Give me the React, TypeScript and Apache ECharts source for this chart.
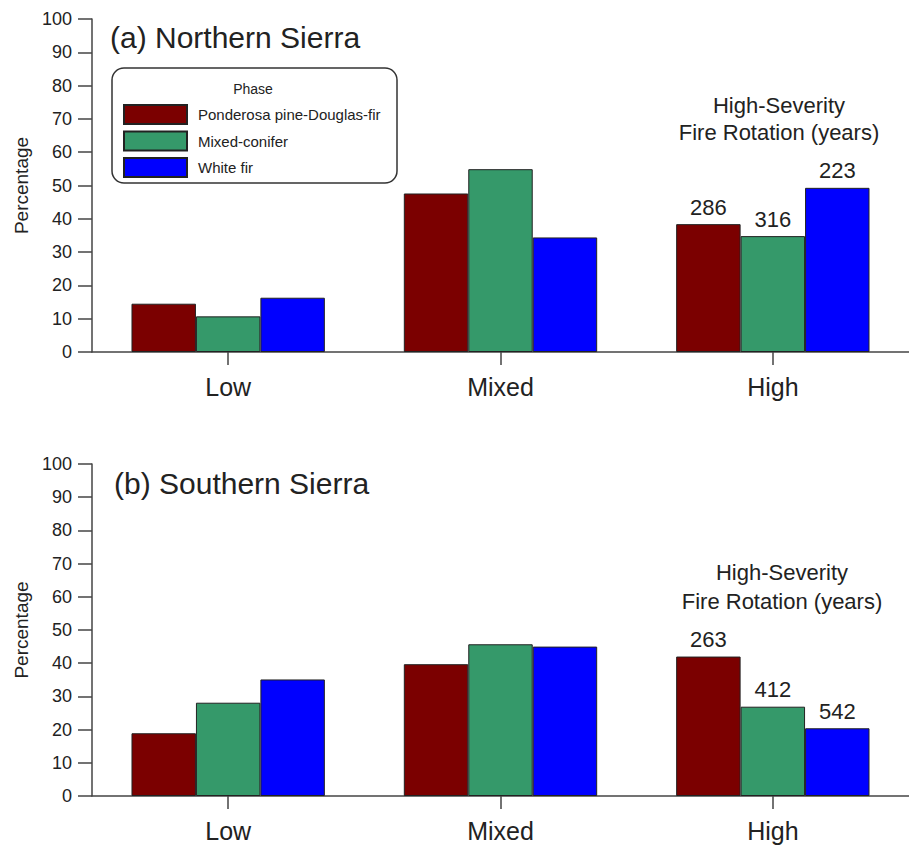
import React, { useEffect, useRef } from "react";
import * as echarts from "echarts";

const categories = ["Low", "Mixed", "High"];
const phases = ["Ponderosa pine-Douglas-fir", "Mixed-conifer", "White fir"];
const phaseColors = ["#7b0000", "#35996a", "#0000ff"];

// (a) Northern Sierra: percentage by severity class, per phase
const northPPDF = [14.5, 47.6, 38.4];
const northMC = [10.7, 54.9, 34.8];
const northWF = [16.3, 34.4, 49.3];
const northRotation = [286, 316, 223];

// (b) Southern Sierra
const southPPDF = [18.9, 39.7, 42.0];
const southMC = [28.1, 45.7, 26.9];
const southWF = [35.1, 45.0, 20.4];
const southRotation = [263, 412, 542];

const yTicks = { min: 0, max: 100, interval: 10 };

const FONT = "Liberation Sans, Arial, sans-serif";

function buildData(values: number[], rotation: number) {
  return values.map((v, i) =>
    i === 2
      ? {
          value: v,
          label: {
            show: true,
            position: "top",
            distance: 6,
            formatter: String(rotation),
            fontSize: 22,
            fontFamily: FONT,
            color: "#222",
          },
        }
      : { value: v }
  );
}

export default function App() {
  const ref = useRef<HTMLDivElement>(null);
  useEffect(() => {
    if (!ref.current) return;
    const chart = echarts.init(ref.current, null, { renderer: "svg" });
    const axisColor = "#444";
    const mkX = (gridIndex: number) => ({
      type: "category",
      gridIndex,
      data: categories,
      axisLine: { show: true, lineStyle: { color: axisColor, width: 1.5 } },
      axisTick: { show: true, inside: false, alignWithLabel: true, length: 13, lineStyle: { color: axisColor, width: 1.5 } },
      axisLabel: { fontSize: 25, color: "#222", fontFamily: FONT, margin: 22 },
    });
    const mkY = (gridIndex: number) => ({
      type: "value",
      gridIndex,
      position: "left",
      min: yTicks.min,
      max: yTicks.max,
      interval: yTicks.interval,
      name: "Percentage",
      nameLocation: "middle",
      nameRotate: 90,
      nameGap: 59,
      nameTextStyle: { fontSize: 19, color: "#222", fontFamily: FONT },
      splitLine: { show: false },
      axisLine: { show: true, onZero: false, lineStyle: { color: axisColor, width: 1.5 } },
      axisTick: { show: true, inside: false, length: 14, lineStyle: { color: axisColor, width: 1.5 } },
      axisLabel: { show: true, fontSize: 18, color: "#222", fontFamily: FONT, margin: 20 },
    });
    const seriesSets = [
      { grid: 0, vals: [northPPDF, northMC, northWF], rot: northRotation },
      { grid: 1, vals: [southPPDF, southMC, southWF], rot: southRotation },
    ];
    const series: any[] = [];
    seriesSets.forEach((s) => {
      s.vals.forEach((vals, k) => {
        series.push({
          type: "bar",
          name: phases[k],
          xAxisIndex: s.grid,
          yAxisIndex: s.grid,
          data: buildData(vals, s.rot[k]),
          barGap: "0%",
          barCategoryGap: "29%",
          itemStyle: { color: phaseColors[k], borderColor: "#222", borderWidth: 1 },
        });
      });
    });
    const rotText = "High-Severity\nFire Rotation (years)";
    chart.setOption({
      animation: false,
      backgroundColor: "#fff",
      title: [
        { text: "(a) Northern Sierra", left: 110, top: 22, padding: 0, textStyle: { fontSize: 30, fontWeight: "normal", color: "#222", fontFamily: FONT } },
        { text: "(b) Southern Sierra", left: 114, top: 468, padding: 0, textStyle: { fontSize: 30, fontWeight: "normal", color: "#222", fontFamily: FONT } },
      ],
      legend: {
        data: phases,
        orient: "vertical",
        left: 123,
        top: 104,
        padding: 0,
        itemWidth: 63,
        itemHeight: 19,
        itemGap: 5.5,
        icon: "rect",
        textStyle: { fontSize: 15, color: "#222", fontFamily: FONT, padding: [0, 0, 0, 6] },
      },
      grid: [
        { left: 92, top: 19, width: 828, height: 333 },
        { left: 92, top: 464, width: 828, height: 332 },
      ],
      xAxis: [mkX(0), mkX(1)],
      yAxis: [mkY(0), mkY(1)],
      series,
      graphic: [
        { type: "rect", shape: { x: 112, y: 68, width: 285, height: 115, r: 12 }, style: { fill: "none", stroke: "#333", lineWidth: 1.5 }, z: 10 },
        { type: "text", x: 253, y: 89, style: { text: "Phase", fontSize: 14, fill: "#222", fontFamily: FONT, align: "center", verticalAlign: "middle" }, z: 10 },
        { type: "text", x: 779, y: 92, style: { text: rotText, fontSize: 22, lineHeight: 27, fill: "#222", fontFamily: FONT, align: "center", verticalAlign: "top" }, z: 10 },
        { type: "text", x: 782, y: 558, style: { text: rotText, fontSize: 22, lineHeight: 29, fill: "#222", fontFamily: FONT, align: "center", verticalAlign: "top" }, z: 10 },
      ],
    });
    return () => chart.dispose();
  }, []);
  return <div ref={ref} style={{ position: "absolute", left: 0, top: 0, width: 909, height: 846 }} />;
}
